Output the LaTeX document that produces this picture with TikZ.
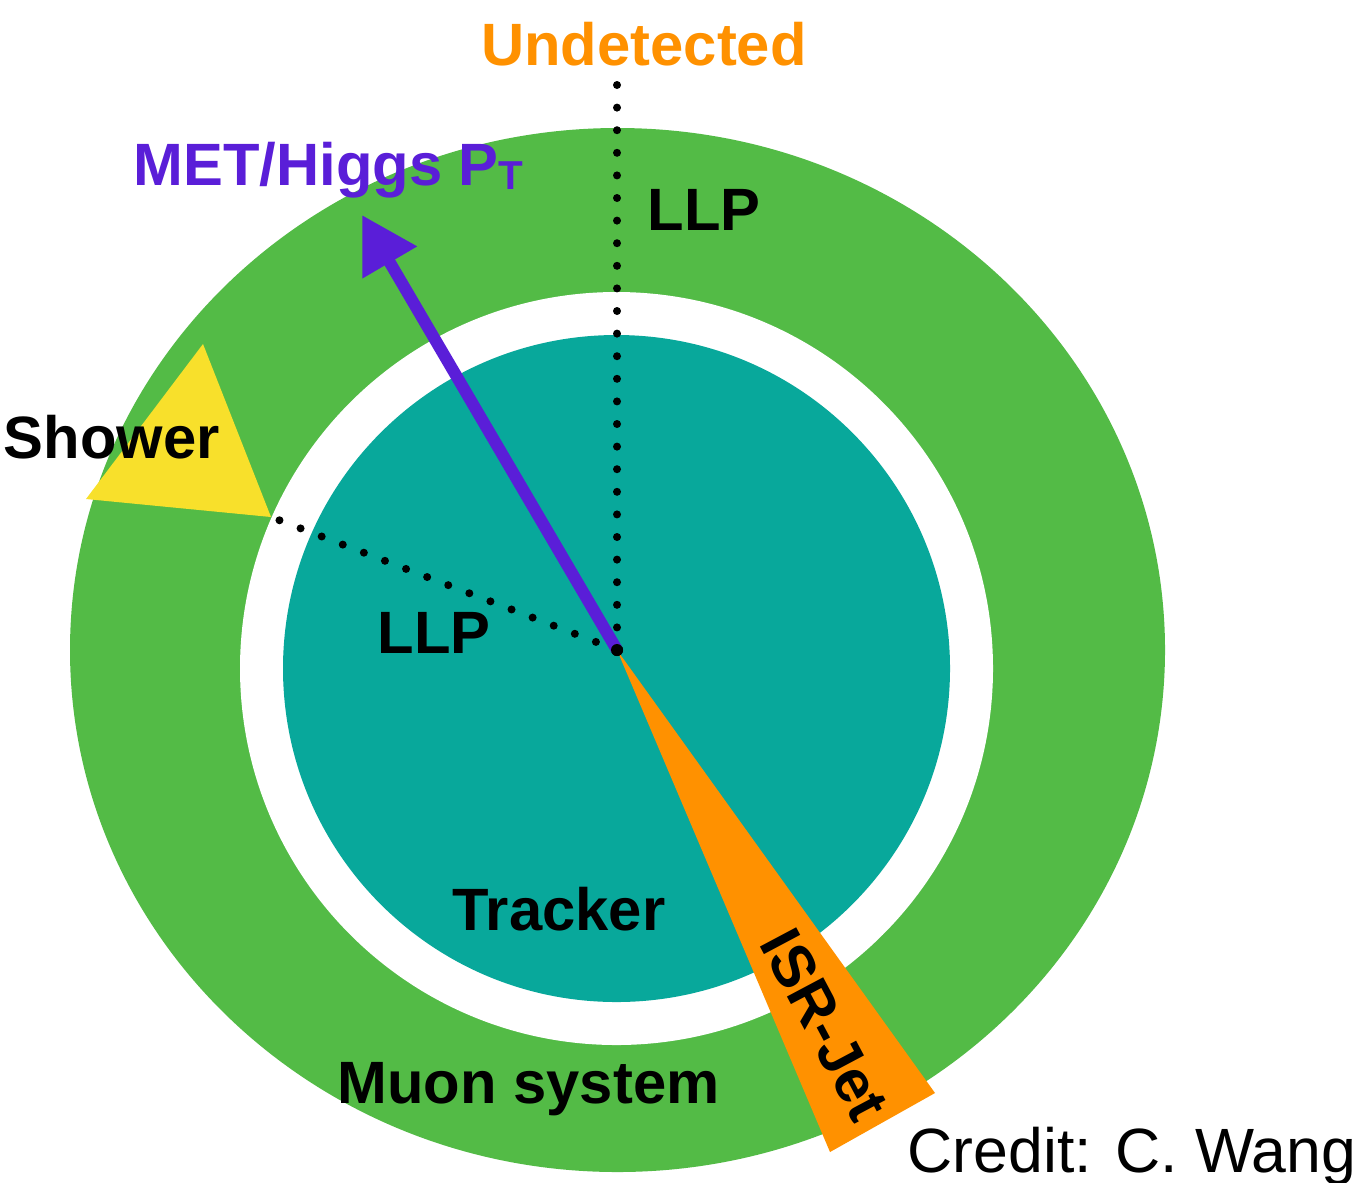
\documentclass[tikz,border=0pt]{standalone}
\usepackage{fontspec}
\setmainfont{Liberation Sans}
\usepackage{tikz}
\usetikzlibrary{arrows.meta}
\definecolor{muongreen}{HTML}{53BB46}
\definecolor{trackerteal}{HTML}{08A89B}
\definecolor{jetorange}{HTML}{FF9100}
\definecolor{showeryellow}{HTML}{F8E02B}
\definecolor{metpurple}{HTML}{5A1ED8}
\tikzset{caption/.style = {font=\fontsize{17}{20}\selectfont\bfseries, inner sep=0pt, anchor=base west}}
\tikzset{track/.style = {line width=0.08cm, line cap=round, dash pattern=on 0pt off 0.226cm}}
\tikzset{metarrow/.style = {metpurple, line width=0.12cm, -{Triangle[length=0.55cm, width=0.6cm]}}}

\begin{document}
\begin{tikzpicture}
  \useasboundingbox (0,0) rectangle (13.58,11.82);
  % detector layers
  \fill[muongreen] (6.175,5.32) ellipse [x radius=5.475cm, y radius=5.22cm];
  \fill[white] (6.165,5.135) circle [radius=3.765cm];
  \fill[trackerteal] (6.165,5.135) circle [radius=3.335cm];
  \fill[jetorange] (6.17,5.32) -- (8.30,0.30) -- (9.35,0.89) -- cycle;
  \fill[showeryellow] (2.03,8.38) -- (0.86,6.83) -- (2.71,6.65) -- cycle;

  \coordinate (lost) at (6.17,10.99);
  \coordinate (hit) at (2.71,6.65);
  \coordinate (tip) at (3.62,9.67);
  \node [circle, fill=black, inner sep=0pt, minimum size=0.12cm] (origin) at (6.17,5.32) {};

  \draw[track] (origin.center) -- (lost);
  \draw[track] (origin.center) -- (hit);
  \draw[metarrow] (origin.center) -- (tip);
  \fill (origin) circle [radius=0.06cm];

  \node [caption, anchor=base, text=jetorange] (undetected) at (6.44,11.17) {Undetected};
  \node [caption, text=metpurple] (met) at (1.33,9.97) {MET/Higgs P\raisebox{-0.04cm}{\fontsize{11.5}{12}\selectfont T}};
  \node [caption] (llpout) at (6.47,9.52) {LLP};
  \node [caption] (shower) at (0.03,7.24) {Shower};
  \node [caption] (llpin) at (3.77,5.29) {LLP};
  \node [caption] (tracker) at (4.52,2.52) {Tracker};
  \node [caption] (muon) at (3.37,0.79) {Muon system};
  \node [caption, anchor=center, rotate=-62] (isrjet) at (8.25,1.57) {ISR-Jet};
  \node [inner sep=0pt, anchor=base west, font=\fontsize{17.8}{20}\selectfont] (credit) at (9.07,0.10) {Credit: C. Wang};
\end{tikzpicture}
\end{document}
